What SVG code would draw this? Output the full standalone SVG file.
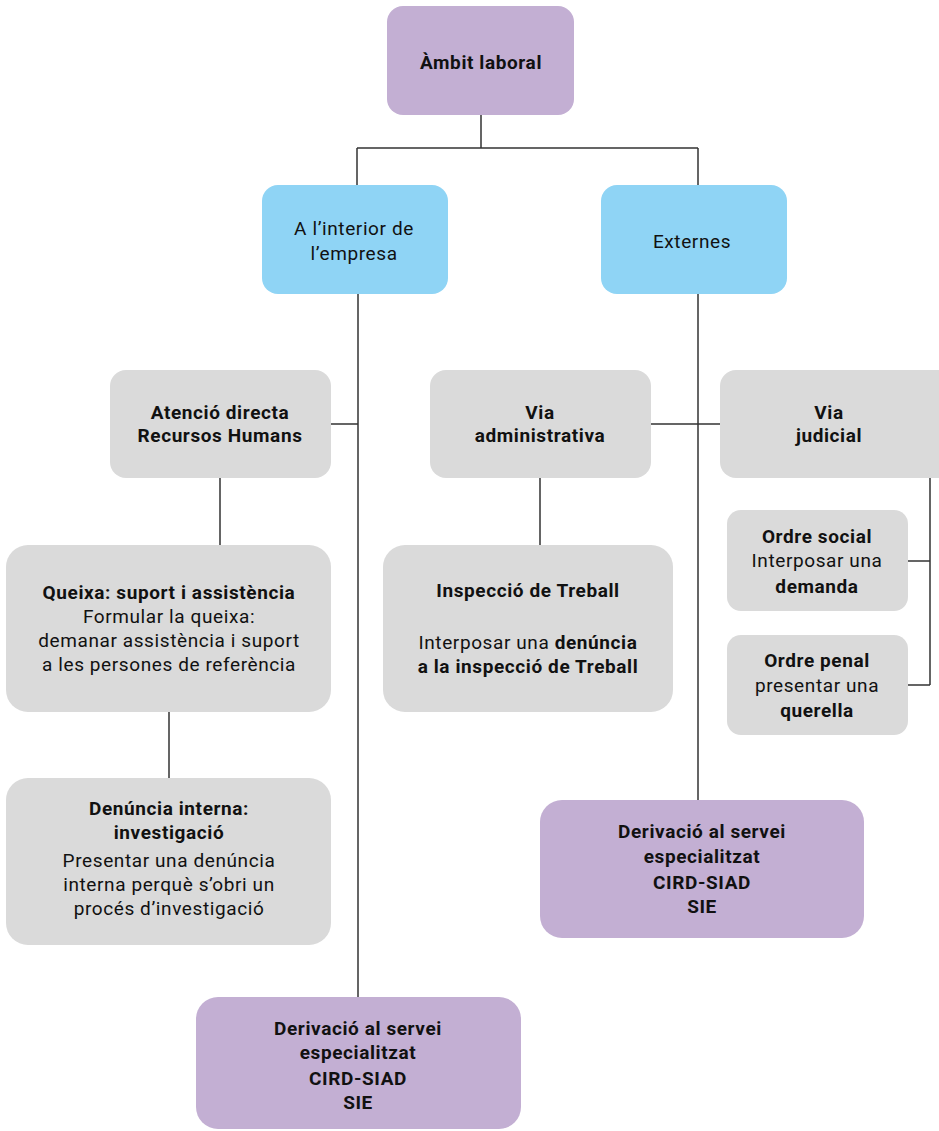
<svg xmlns="http://www.w3.org/2000/svg" width="939" height="1131" viewBox="0 0 939 1131">
<style>
text{font-family:Roboto,"Liberation Sans",sans-serif;font-size:19px;letter-spacing:0.6px;fill:#111;text-anchor:middle}
.b{font-weight:bold}
.p{fill:#c3afd3}
.c{fill:#8fd4f5}
.g{fill:#dadada}
.ln{stroke:#333;stroke-width:1.5;fill:none}
</style>
<rect width="939" height="1131" fill="#fff"/>
<g id="connectors">
<path class="ln" d="M481 115V148M357 148H698M357 148V185M698 148V185"/>
<path class="ln" d="M358 294V997M331 424H358"/>
<path class="ln" d="M698 294V800M651 424H720"/>
<path class="ln" d="M220 478V545M169 712V778M540 478V545"/>
<path class="ln" d="M930 478V685M908 561H930M908 685H930"/>
</g>
<g id="ambit"><rect class="p" x="387" y="6" width="187" height="109" rx="16"/><text class="b" x="481" y="69">Àmbit laboral</text></g>
<g id="interior"><rect class="c" x="262" y="185" width="186" height="109" rx="16"/><text x="354" y="235">A l’interior de</text><text x="354" y="260">l’empresa</text></g>
<g id="externes"><rect class="c" x="601" y="185" width="186" height="109" rx="16"/><text x="692" y="248">Externes</text></g>
<g id="atencio"><rect class="g" x="110" y="370" width="221" height="108" rx="16"/><text class="b" x="220" y="419">Atenció directa</text><text class="b" x="220" y="442">Recursos Humans</text></g>
<g id="via-admin"><rect class="g" x="430" y="370" width="221" height="108" rx="16"/><text class="b" x="540" y="419">Via</text><text class="b" x="540" y="442">administrativa</text></g>
<g id="via-judicial"><rect class="g" x="720" y="370" width="235" height="108" rx="16"/><text class="b" x="829" y="419">Via</text><text class="b" x="829" y="442">judicial</text></g>
<g id="ordre-social"><rect class="g" x="727" y="510" width="181" height="101" rx="14"/><text class="b" x="817" y="543">Ordre social</text><text x="817" y="567">Interposar una</text><text class="b" x="817" y="593">demanda</text></g>
<g id="ordre-penal"><rect class="g" x="727" y="635" width="181" height="100" rx="14"/><text class="b" x="817" y="667">Ordre penal</text><text x="817" y="692">presentar una</text><text class="b" x="817" y="717">querella</text></g>
<g id="queixa"><rect class="g" x="6" y="545" width="325" height="167" rx="22"/><text class="b" x="169" y="599">Queixa: suport i assistència</text><text x="169" y="623">Formular la queixa:</text><text x="169" y="647">demanar assistència i suport</text><text x="169" y="671">a les persones de referència</text></g>
<g id="inspeccio"><rect class="g" x="383" y="545" width="290" height="167" rx="22"/><text class="b" x="528" y="597">Inspecció de Treball</text><text x="528" y="649">Interposar una <tspan class="b">denúncia</tspan></text><text class="b" x="528" y="673">a la inspecció de Treball</text></g>
<g id="denuncia-interna"><rect class="g" x="6" y="778" width="325" height="167" rx="22"/><text class="b" x="169" y="815">Denúncia interna:</text><text class="b" x="169" y="839">investigació</text><text x="169" y="867">Presentar una denúncia</text><text x="169" y="891">interna perquè s’obri un</text><text x="169" y="915">procés d’investigació</text></g>
<g id="derivacio-ext"><rect class="p" x="540" y="800" width="324" height="138" rx="22"/><text class="b" x="702" y="838">Derivació al servei</text><text class="b" x="702" y="863">especialitzat</text><text class="b" x="702" y="889">CIRD-SIAD</text><text class="b" x="702" y="913">SIE</text></g>
<g id="derivacio-int"><rect class="p" x="196" y="997" width="325" height="132" rx="22"/><text class="b" x="358" y="1035">Derivació al servei</text><text class="b" x="358" y="1059">especialitzat</text><text class="b" x="358" y="1085">CIRD-SIAD</text><text class="b" x="358" y="1109">SIE</text></g>
</svg>
